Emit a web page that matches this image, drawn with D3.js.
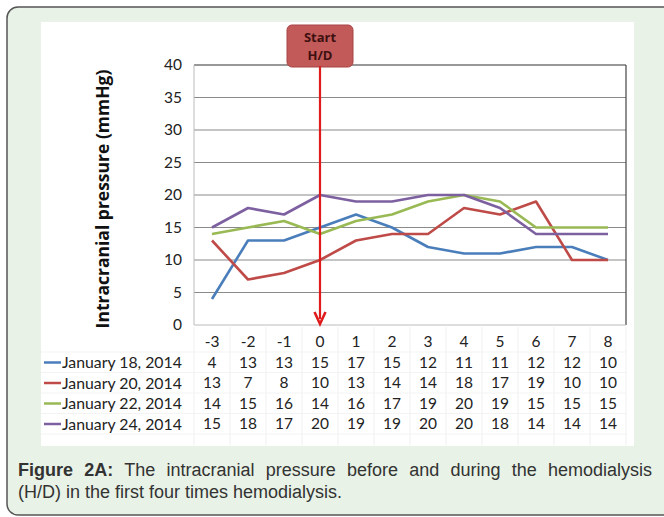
<!DOCTYPE html>
<html><head><meta charset="utf-8">
<script src="https://cdn.jsdelivr.net/npm/d3@7"></script>
<style>
html,body{margin:0;padding:0;background:#fff;}
</style></head>
<body>
<svg id="chart" width="664" height="517" style="position:absolute;left:0;top:0"></svg>
<script>
const categories = ["-3","-2","-1","0","1","2","3","4","5","6","7","8"];
const seriesNames = ["January 18, 2014","January 20, 2014","January 22, 2014","January 24, 2014"];
const jan18 = [4,13,13,15,17,15,12,11,11,12,12,10];
const jan20 = [13,7,8,10,13,14,14,18,17,19,10,10];
const jan22 = [14,15,16,14,16,17,19,20,19,15,15,15];
const jan24 = [15,18,17,20,19,19,20,20,18,14,14,14];
const yTicks = [0,5,10,15,20,25,30,35,40];
const colors = ["#4a7ebb","#be4b48","#98b954","#7d60a0"];
const series = [jan18,jan20,jan22,jan24];
const markerCategory = "0";
const captionBold = "Figure 2A:";
const captionLine1 = " The intracranial pressure before and during the hemodialysis";
const captionLine2 = "(H/D) in the first four times hemodialysis.";

const svg = d3.select("#chart");
svg.append("rect").attr("x",7).attr("y",7).attr("width",720).attr("height",508)
  .attr("rx",11).attr("fill","#e8f2e6").attr("stroke","#555").attr("stroke-width",1.5);
svg.append("rect").attr("x",41).attr("y",22).attr("width",593).attr("height",424).attr("fill","#fff");

const x = d3.scaleBand().domain(categories).range([194,626]);
const y = d3.scaleLinear().domain([0,40]).range([325,65]);

svg.append("g").selectAll("line").data(yTicks.filter(t=>t>0)).join("line")
  .attr("x1",194).attr("x2",626).attr("y1",d=>y(d)).attr("y2",d=>y(d))
  .attr("stroke",d=>d===40?"#333":"#8a8a8a").attr("stroke-width",1.2);
svg.append("line").attr("x1",626).attr("x2",626).attr("y1",y(40)).attr("y2",y(0)).attr("stroke","#444").attr("stroke-width",1.2);
svg.append("line").attr("x1",194).attr("x2",194).attr("y1",y(40)).attr("y2",y(0)).attr("stroke","#bbb").attr("stroke-width",1);
svg.append("line").attr("x1",194).attr("x2",626).attr("y1",y(0)).attr("y2",y(0)).attr("stroke","#bbb").attr("stroke-width",1);

const yAxis = d3.axisLeft(y).tickValues(yTicks).tickSize(0).tickPadding(12);
const yg = svg.append("g").attr("transform","translate(194,0)").call(yAxis);
yg.select(".domain").remove();
yg.selectAll("text").attr("font-family","Lato, 'Open Sans', sans-serif").attr("font-size",15.5).attr("fill","#222");

svg.append("text").attr("transform","translate(109,199) rotate(-90)")
  .attr("text-anchor","middle").attr("font-family","'Open Sans', sans-serif")
  .attr("font-weight","bold").attr("font-size",17.5).attr("fill","#111")
  .text("Intracranial pressure (mmHg)");

const tg = svg.append("g");
const rowY = [342,362.5,383,403.5,424];
const rowTop = [330,352,372.5,393,413.5,434];
categories.forEach((c)=>{
  tg.append("line").attr("x1",x(c)).attr("x2",x(c)).attr("y1",327).attr("y2",445).attr("stroke","#f0f0f0");
});
tg.append("line").attr("x1",626).attr("x2",626).attr("y1",327).attr("y2",445).attr("stroke","#f0f0f0");
rowTop.slice(1).forEach(r=>{
  tg.append("line").attr("x1",41).attr("x2",626).attr("y1",r).attr("y2",r).attr("stroke","#f3f3f3");
});
const fontT = "Lato, 'Open Sans', sans-serif";
tg.selectAll("text.cat").data(categories).join("text").attr("class","cat")
  .attr("x",d=>x(d)+x.bandwidth()/2).attr("y",rowY[0]).attr("dy","0.35em")
  .attr("text-anchor","middle").attr("font-family",fontT).attr("font-size",15.5).attr("fill","#222").text(d=>d);
series.forEach((s,k)=>{
  const ry = rowY[k+1];
  tg.append("line").attr("x1",44).attr("x2",61).attr("y1",ry).attr("y2",ry)
    .attr("stroke",colors[k]).attr("stroke-width",2.5);
  tg.append("text").attr("x",62).attr("y",ry).attr("dy","0.35em")
    .attr("font-family",fontT).attr("font-size",15.8).attr("fill","#222").text(seriesNames[k]);
  tg.selectAll("text.v"+k).data(s).join("text").attr("class","v"+k)
    .attr("x",(d,i)=>x(categories[i])+x.bandwidth()/2).attr("y",ry).attr("dy","0.35em")
    .attr("text-anchor","middle").attr("font-family",fontT).attr("font-size",15.5).attr("fill","#222").text(d=>d);
});

const line = d3.line().x((d,i)=>x(categories[i])+x.bandwidth()/2).y(d=>y(d));
series.forEach((s,k)=>{
  svg.append("path").datum(s).attr("d",line).attr("fill","none")
    .attr("stroke",colors[k]).attr("stroke-width",2.6).attr("stroke-linejoin","round");
});

const mx = x(markerCategory)+x.bandwidth()/2;
svg.append("line").attr("x1",mx).attr("x2",mx).attr("y1",62).attr("y2",y(0)-6)
  .attr("stroke","#e01b1b").attr("stroke-width",2.2);
svg.append("path").attr("d",`M${mx-5.5},${y(0)-13} L${mx},${y(0)-1} L${mx+5.5},${y(0)-13}`)
  .attr("fill","none").attr("stroke","#e01b1b").attr("stroke-width",2.6).attr("stroke-linejoin","miter");

svg.append("rect").attr("x",mx-33).attr("y",25).attr("width",66).attr("height",42).attr("rx",5)
  .attr("fill","#c25a5a").attr("stroke","#a94444").attr("stroke-width",1);
svg.append("text").attr("x",mx).attr("y",42).attr("text-anchor","middle")
  .attr("font-family","'Open Sans', sans-serif").attr("font-weight","bold").attr("font-size",13).attr("fill","#3e1010").text("Start");
svg.append("text").attr("x",mx).attr("y",60).attr("text-anchor","middle")
  .attr("font-family","'Open Sans', sans-serif").attr("font-weight","bold").attr("font-size",13).attr("fill","#3e1010").text("H/D");
svg.append("line").attr("x1",mx).attr("x2",mx).attr("y1",66).attr("y2",y(40)+2)
  .attr("stroke","#e01b1b").attr("stroke-width",2.2);

// caption (line 1 justified via word spacing)
const capFont = "'Liberation Sans', Arial, sans-serif";
const c1 = svg.append("text").attr("x",18).attr("y",476)
  .attr("font-family",capFont).attr("font-size",18).attr("fill","#333");
c1.append("tspan").attr("font-weight","bold").text(captionBold);
c1.append("tspan").text(captionLine1);
const natural = c1.node().getComputedTextLength();
const spaces = (captionBold + captionLine1).split(" ").length - 1;
const ws = Math.max(0, (634 - natural) / spaces);
c1.attr("word-spacing", ws);
svg.append("text").attr("x",18).attr("y",498)
  .attr("font-family",capFont).attr("font-size",18).attr("fill","#333").text(captionLine2);
</script>
</body></html>
